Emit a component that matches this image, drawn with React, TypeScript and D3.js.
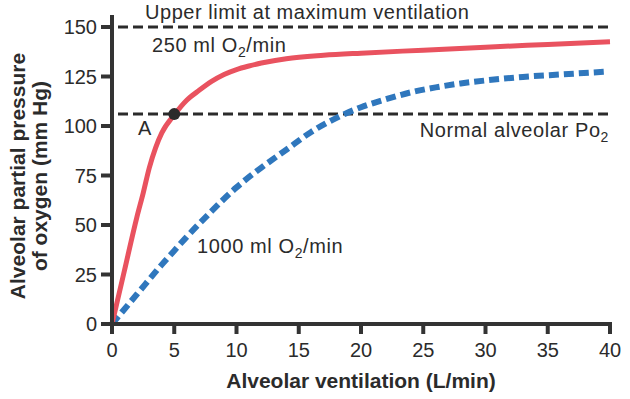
import { useEffect, useRef } from 'react';
import * as d3 from 'd3';

// ventilation (L/min) vs alveolar PO2 (mm Hg)
const ventRed = [0, 0.5, 1, 2, 2.5, 3, 3.5, 4, 5, 6, 7, 8, 9, 10, 11, 12, 14, 17, 20, 25, 30, 35, 40];
const po2Red = [0, 13.5, 27, 54, 66, 79, 89, 96.5, 105.6, 113, 118, 122.5, 126, 128.5, 130.3, 131.8, 134, 135.7, 136.8, 138.3, 139.8, 141.2, 142.6];

const ventBlue = [0, 2, 4, 5, 6, 8, 10, 12, 14, 16, 18, 20, 22, 24, 26, 28, 30, 33, 36, 39.6];
const po2Blue = [0, 15, 30, 37, 44, 57, 69, 79, 88, 97, 104, 109.5, 113.5, 117, 119.5, 121.5, 123, 124.8, 126, 127.4];

const xTicks = [0, 5, 10, 15, 20, 25, 30, 35, 40];
const yTicks = [0, 25, 50, 75, 100, 125, 150];

const upperLimit = 150;
const normalPo2 = 106;
const pointA = [5, 106];

const W = 630;
const H = 399;

export default function App() {
    const svgRef = useRef(null);

    useEffect(() => {
        const svg = d3.select(svgRef.current);
        svg.selectAll('*').remove();

        const x = d3.scaleLinear().domain([0, 40]).range([112, 610]);
        const y = d3.scaleLinear().domain([0, 150]).range([324, 27]);
        const ink = '#2b2b2b';
        const font = '"Liberation Sans", Arial, Helvetica, sans-serif';

        // reference lines
        [upperLimit, normalPo2].forEach(v => {
            svg.append('line')
                .attr('x1', x(0) + 6).attr('x2', x(40))
                .attr('y1', y(v)).attr('y2', y(v))
                .attr('stroke', ink)
                .attr('stroke-width', 3)
                .attr('stroke-dasharray', '10,5');
        });

        const line = d3.line().x(d => x(d[0])).y(d => y(d[1])).curve(d3.curveMonotoneX);

        svg.append('path')
            .attr('d', line(ventBlue.map((v, i) => [v, po2Blue[i]])))
            .attr('fill', 'none')
            .attr('stroke', '#2f77bd')
            .attr('stroke-width', 6)
            .attr('stroke-dasharray', '10,5');

        svg.append('path')
            .attr('d', line(ventRed.map((v, i) => [v, po2Red[i]])))
            .attr('fill', 'none')
            .attr('stroke', '#e9525f')
            .attr('stroke-width', 5)
            .attr('stroke-linecap', 'butt');

        svg.append('circle')
            .attr('cx', x(pointA[0])).attr('cy', y(pointA[1]))
            .attr('r', 6)
            .attr('fill', ink);

        // axes
        const axisG = svg.append('g').attr('stroke', '#333').attr('stroke-width', 4);
        axisG.append('line').attr('x1', x(0)).attr('x2', x(0)).attr('y1', 15).attr('y2', y(0) + 2);
        axisG.append('line').attr('x1', x(0) - 2).attr('x2', x(40) + 2).attr('y1', y(0)).attr('y2', y(0));
        xTicks.forEach(t => {
            axisG.append('line').attr('x1', x(t)).attr('x2', x(t)).attr('y1', y(0)).attr('y2', y(0) + 10);
        });
        yTicks.forEach(t => {
            axisG.append('line').attr('x1', x(0) - 11).attr('x2', x(0)).attr('y1', y(t)).attr('y2', y(t));
        });

        const text = (tx, ty, str, opts = {}) => svg.append('text')
            .attr('x', tx).attr('y', ty)
            .attr('font-family', font)
            .attr('font-size', opts.size || 20)
            .attr('font-weight', opts.weight || 'normal')
            .attr('text-anchor', opts.anchor || 'start')
            .attr('letter-spacing', opts.ls || 0)
            .attr('fill', ink)
            .text(str);

        xTicks.forEach(t => text(x(t), 357, String(t), { anchor: 'middle' }));
        yTicks.forEach(t => text(97, y(t) + 7, String(t), { anchor: 'end' }));

        text(361, 388, 'Alveolar ventilation (L/min)', { anchor: 'middle', weight: 'bold', size: 21 });

        const yTitle = svg.append('g').attr('transform', 'translate(0,176) rotate(-90)');
        yTitle.append('text').attr('x', 0).attr('y', 25)
            .attr('text-anchor', 'middle').attr('font-family', font)
            .attr('font-size', 21).attr('font-weight', 'bold').attr('fill', ink)
            .text('Alveolar partial pressure');
        yTitle.append('text').attr('x', 0).attr('y', 47)
            .attr('text-anchor', 'middle').attr('font-family', font)
            .attr('font-size', 21).attr('font-weight', 'bold').attr('fill', ink)
            .text('of oxygen (mm Hg)');

        text(145, 19, 'Upper limit at maximum ventilation', { ls: 0.55 });
        text(138, 135, 'A', { ls: 0.5 });

        const sub = (tx, ty, before, after, anchor = 'start') => {
            const t = text(tx, ty, '', { ls: 0.6, anchor });
            t.append('tspan').text(before);
            t.append('tspan').attr('font-size', 14).attr('dy', 5).text('2');
            if (after) t.append('tspan').attr('dy', -5).text(after);
        };
        sub(152, 52, '250 ml O', '/min');
        sub(197, 253, '1000 ml O', '/min');
        sub(609, 137, 'Normal alveolar Po', '', 'end');
    }, []);

    return (
        <svg ref={svgRef} width={W} height={H}
            style={{ position: 'absolute', left: 0, top: 0, background: '#fff' }} />
    );
}
